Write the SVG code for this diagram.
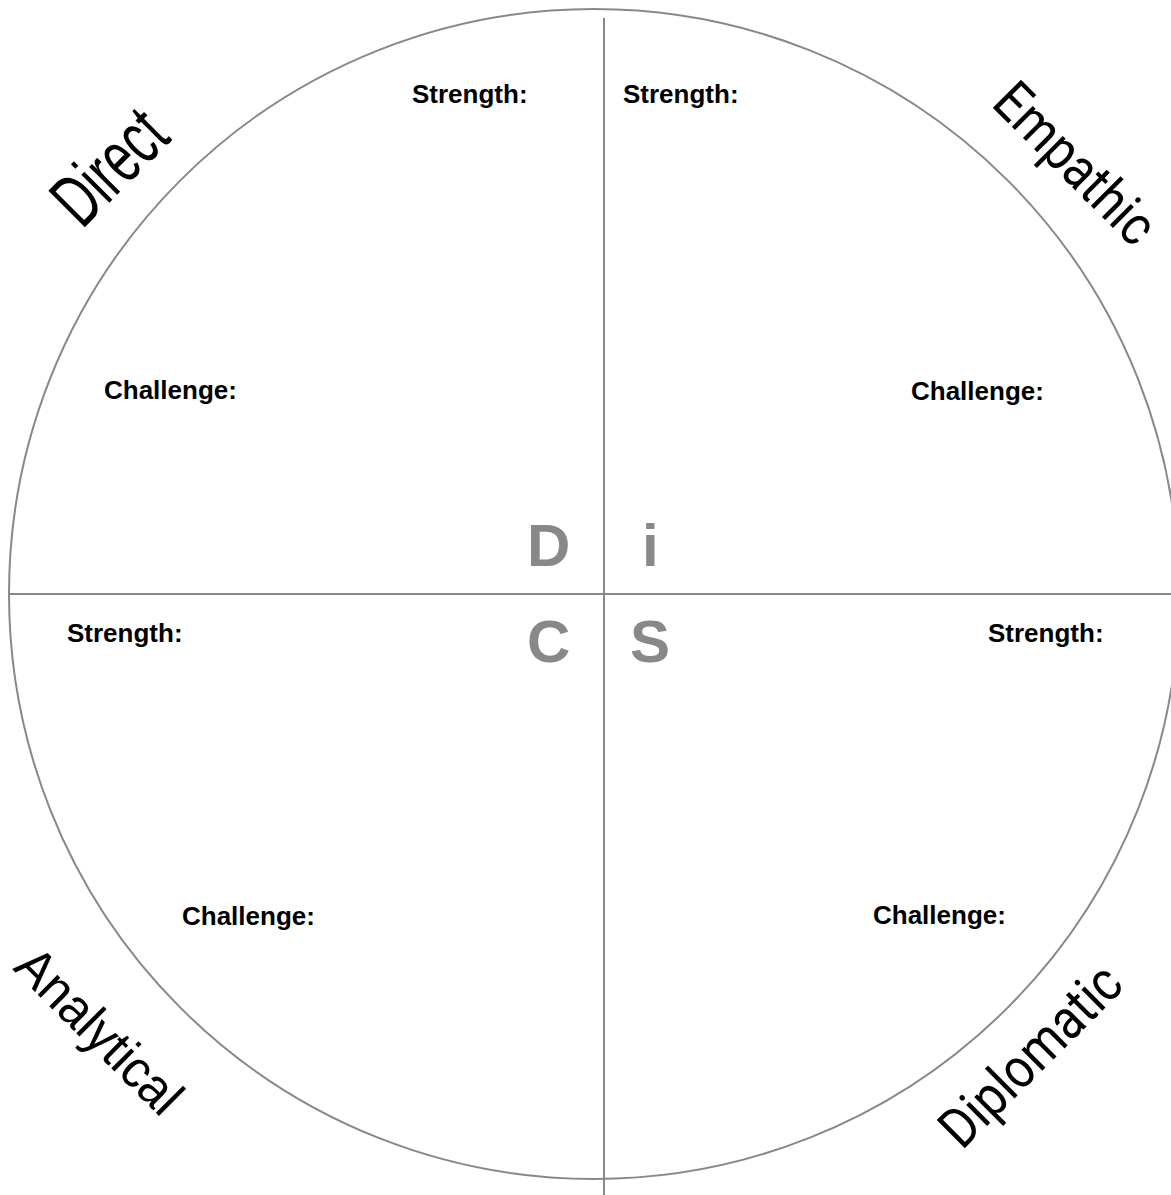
<svg xmlns="http://www.w3.org/2000/svg" width="1171" height="1195" viewBox="0 0 1171 1195">
<style>
.ln{stroke:#888;stroke-width:2;fill:none}
.lbl{font-family:"Liberation Sans",Arial,sans-serif;font-weight:bold;font-size:26px;fill:#000}
.disc{font-family:"Liberation Sans",Arial,sans-serif;font-weight:bold;font-size:60px;fill:#888}
.big{font-family:"Liberation Sans",Arial,sans-serif;fill:#000}
.rob{font-family:Roboto,"Liberation Sans",sans-serif;fill:#000}
</style>
<rect width="1171" height="1195" fill="#fff"/>
<g id="connectors">
<circle class="ln" cx="594" cy="594" r="585"/>
<line class="ln" x1="604" y1="18" x2="604" y2="1195"/>
<line class="ln" x1="9" y1="594" x2="1171" y2="594"/>
</g>
<g id="quadrant-D">
<text class="disc" x="527" y="566">D</text>
<text class="lbl" x="412" y="103">Strength:</text>
<text class="lbl" x="104" y="399">Challenge:</text>
<text class="big" font-size="75" textLength="128" lengthAdjust="spacingAndGlyphs" transform="translate(82,230) rotate(-45)">Direct</text>
</g>
<g id="quadrant-i">
<text class="disc" x="642" y="566">i</text>
<text class="lbl" x="623" y="103">Strength:</text>
<text class="lbl" x="911" y="400">Challenge:</text>
<text class="rob" font-size="56" textLength="203" lengthAdjust="spacingAndGlyphs" transform="translate(990,105) rotate(45)">Empathic</text>
</g>
<g id="quadrant-C">
<text class="disc" x="527" y="662">C</text>
<text class="lbl" x="67" y="642">Strength:</text>
<text class="lbl" x="182" y="925">Challenge:</text>
<text class="big" font-size="53" textLength="211" lengthAdjust="spacingAndGlyphs" transform="translate(12,969) rotate(45)">Analytical</text>
</g>
<g id="quadrant-S">
<text class="disc" x="630" y="662">S</text>
<text class="lbl" x="988" y="642">Strength:</text>
<text class="lbl" x="873" y="924">Challenge:</text>
<text class="rob" font-size="56" textLength="232" lengthAdjust="spacingAndGlyphs" transform="translate(962,1151) rotate(-45)">Diplomatic</text>
</g>
</svg>
